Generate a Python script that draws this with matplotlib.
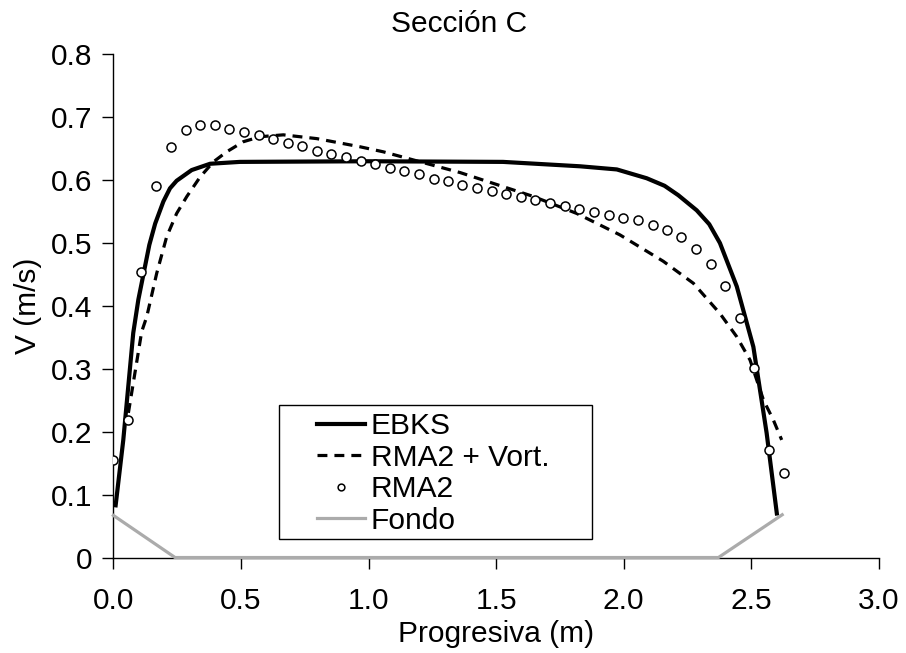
import matplotlib
matplotlib.use("Agg")
import matplotlib.pyplot as plt
from matplotlib.patches import Rectangle

plt.rcParams['font.family'] = ['Liberation Sans', 'DejaVu Sans']

# EBKS (solid line)
ebks_x = [0.009, 0.039, 0.078, 0.098, 0.141, 0.164, 0.196, 0.222, 0.248, 0.307,
          0.379, 0.496, 1.000, 1.527, 1.829, 1.973, 2.090, 2.160, 2.214, 2.286,
          2.335, 2.377, 2.443, 2.508, 2.560, 2.600]
ebks_v = [0.083, 0.187, 0.357, 0.410, 0.497, 0.531, 0.566, 0.587, 0.599, 0.616,
          0.626, 0.629, 0.630, 0.629, 0.622, 0.617, 0.603, 0.591, 0.576, 0.552,
          0.530, 0.500, 0.431, 0.335, 0.198, 0.070]

# RMA2 + Vort. (dashed line)
vort_x = [0.059, 0.111, 0.131, 0.170, 0.209, 0.248, 0.288, 0.340, 0.392, 0.444,
          0.509, 0.575, 0.666, 0.797, 0.967, 1.058, 1.359, 1.646, 1.816, 1.985,
          2.155, 2.273, 2.377, 2.443, 2.495, 2.548, 2.586, 2.619]
vort_v = [0.230, 0.359, 0.383, 0.452, 0.510, 0.547, 0.574, 0.605, 0.629, 0.645,
          0.661, 0.669, 0.672, 0.666, 0.653, 0.645, 0.612, 0.574, 0.547, 0.513,
          0.471, 0.436, 0.388, 0.351, 0.314, 0.250, 0.219, 0.187]

# RMA2 (open circles)
rma2_x = [0.000, 0.058, 0.109, 0.169, 0.227, 0.283, 0.340, 0.398, 0.454, 0.513,
          0.571, 0.626, 0.684, 0.741, 0.798, 0.854, 0.913, 0.969, 1.025, 1.083,
          1.139, 1.198, 1.256, 1.312, 1.368, 1.426, 1.483, 1.540, 1.598, 1.654,
          1.713, 1.769, 1.825, 1.883, 1.941, 1.998, 2.055, 2.113, 2.169, 2.226,
          2.283, 2.341, 2.398, 2.454, 2.510, 2.569, 2.627]
rma2_v = [0.155, 0.219, 0.454, 0.591, 0.653, 0.680, 0.687, 0.687, 0.682, 0.676,
          0.671, 0.665, 0.659, 0.654, 0.647, 0.642, 0.636, 0.630, 0.625, 0.619,
          0.614, 0.609, 0.602, 0.598, 0.592, 0.588, 0.583, 0.578, 0.573, 0.568,
          0.564, 0.559, 0.554, 0.549, 0.545, 0.540, 0.536, 0.529, 0.520, 0.509,
          0.491, 0.467, 0.432, 0.381, 0.301, 0.171, 0.134]

# Fondo (bed, grey)
fondo_x = [0.0, 0.242, 2.371, 2.621]
fondo_v = [0.067, 0.0, 0.0, 0.068]

fs = 21.5

fig = plt.figure(figsize=(9.06, 6.53), dpi=100)
ax = fig.add_axes([0.1251, 0.1462, 0.845, 0.7706])

ax.plot(ebks_x, ebks_v, color='black', lw=3.0, label='EBKS', zorder=4)
ax.plot(vort_x, vort_v, color='black', lw=2.3, dashes=(3.1, 2.2), label='RMA2 + Vort.', zorder=4)
ax.plot(rma2_x, rma2_v, ls='none', marker='o', ms=6.5, mfc='white', mec='black',
        mew=1.1, label='RMA2', zorder=5)
ax.plot(fondo_x, fondo_v, color='#ababab', lw=2.3, label='Fondo', zorder=6, clip_on=False)

ax.set_xlim(0, 3.0)
ax.set_ylim(0, 0.8)
ax.set_xticks([0.0, 0.5, 1.0, 1.5, 2.0, 2.5, 3.0])
ax.set_xticklabels(['0.0', '0.5', '1.0', '1.5', '2.0', '2.5', '3.0'])
ax.set_yticks([0, 0.1, 0.2, 0.3, 0.4, 0.5, 0.6, 0.7, 0.8])
ax.set_yticklabels(['0', '0.1', '0.2', '0.3', '0.4', '0.5', '0.6', '0.7', '0.8'])

for s in ['top', 'right']:
    ax.spines[s].set_visible(False)
for s in ['left', 'bottom']:
    ax.spines[s].set_linewidth(1.0)
ax.tick_params(axis='both', direction='out', length=8, width=1.0, labelsize=fs)
ax.tick_params(axis='x', pad=13)
ax.tick_params(axis='y', pad=7)

ax.set_xlabel('Progresiva (m)', fontsize=fs)
ax.xaxis.set_label_coords(0.5, -0.125)
ax.set_ylabel('V (m/s)', fontsize=fs)
ax.yaxis.set_label_coords(-0.093, 0.5)

fig.text(459 / 906, 1 - 24 / 653, 'Sección C', fontsize=fs, ha='center', va='center')

# legend box drawn separately (wide side padding like the original)
ax.add_patch(Rectangle((0.2164, 0.0368), 0.4085, 0.2663, transform=ax.transAxes,
                       facecolor='white', edgecolor='black', lw=1.0, zorder=7,
                       clip_on=False))
leg = ax.legend(loc='center left', bbox_to_anchor=(0.266, 0.167), fontsize=fs,
                frameon=False, borderaxespad=0, borderpad=0, handlelength=1.6,
                handletextpad=0.2, labelspacing=0.12, markerscale=0.75)
leg.set_zorder(8)

fig.savefig('out.png', dpi=100)
